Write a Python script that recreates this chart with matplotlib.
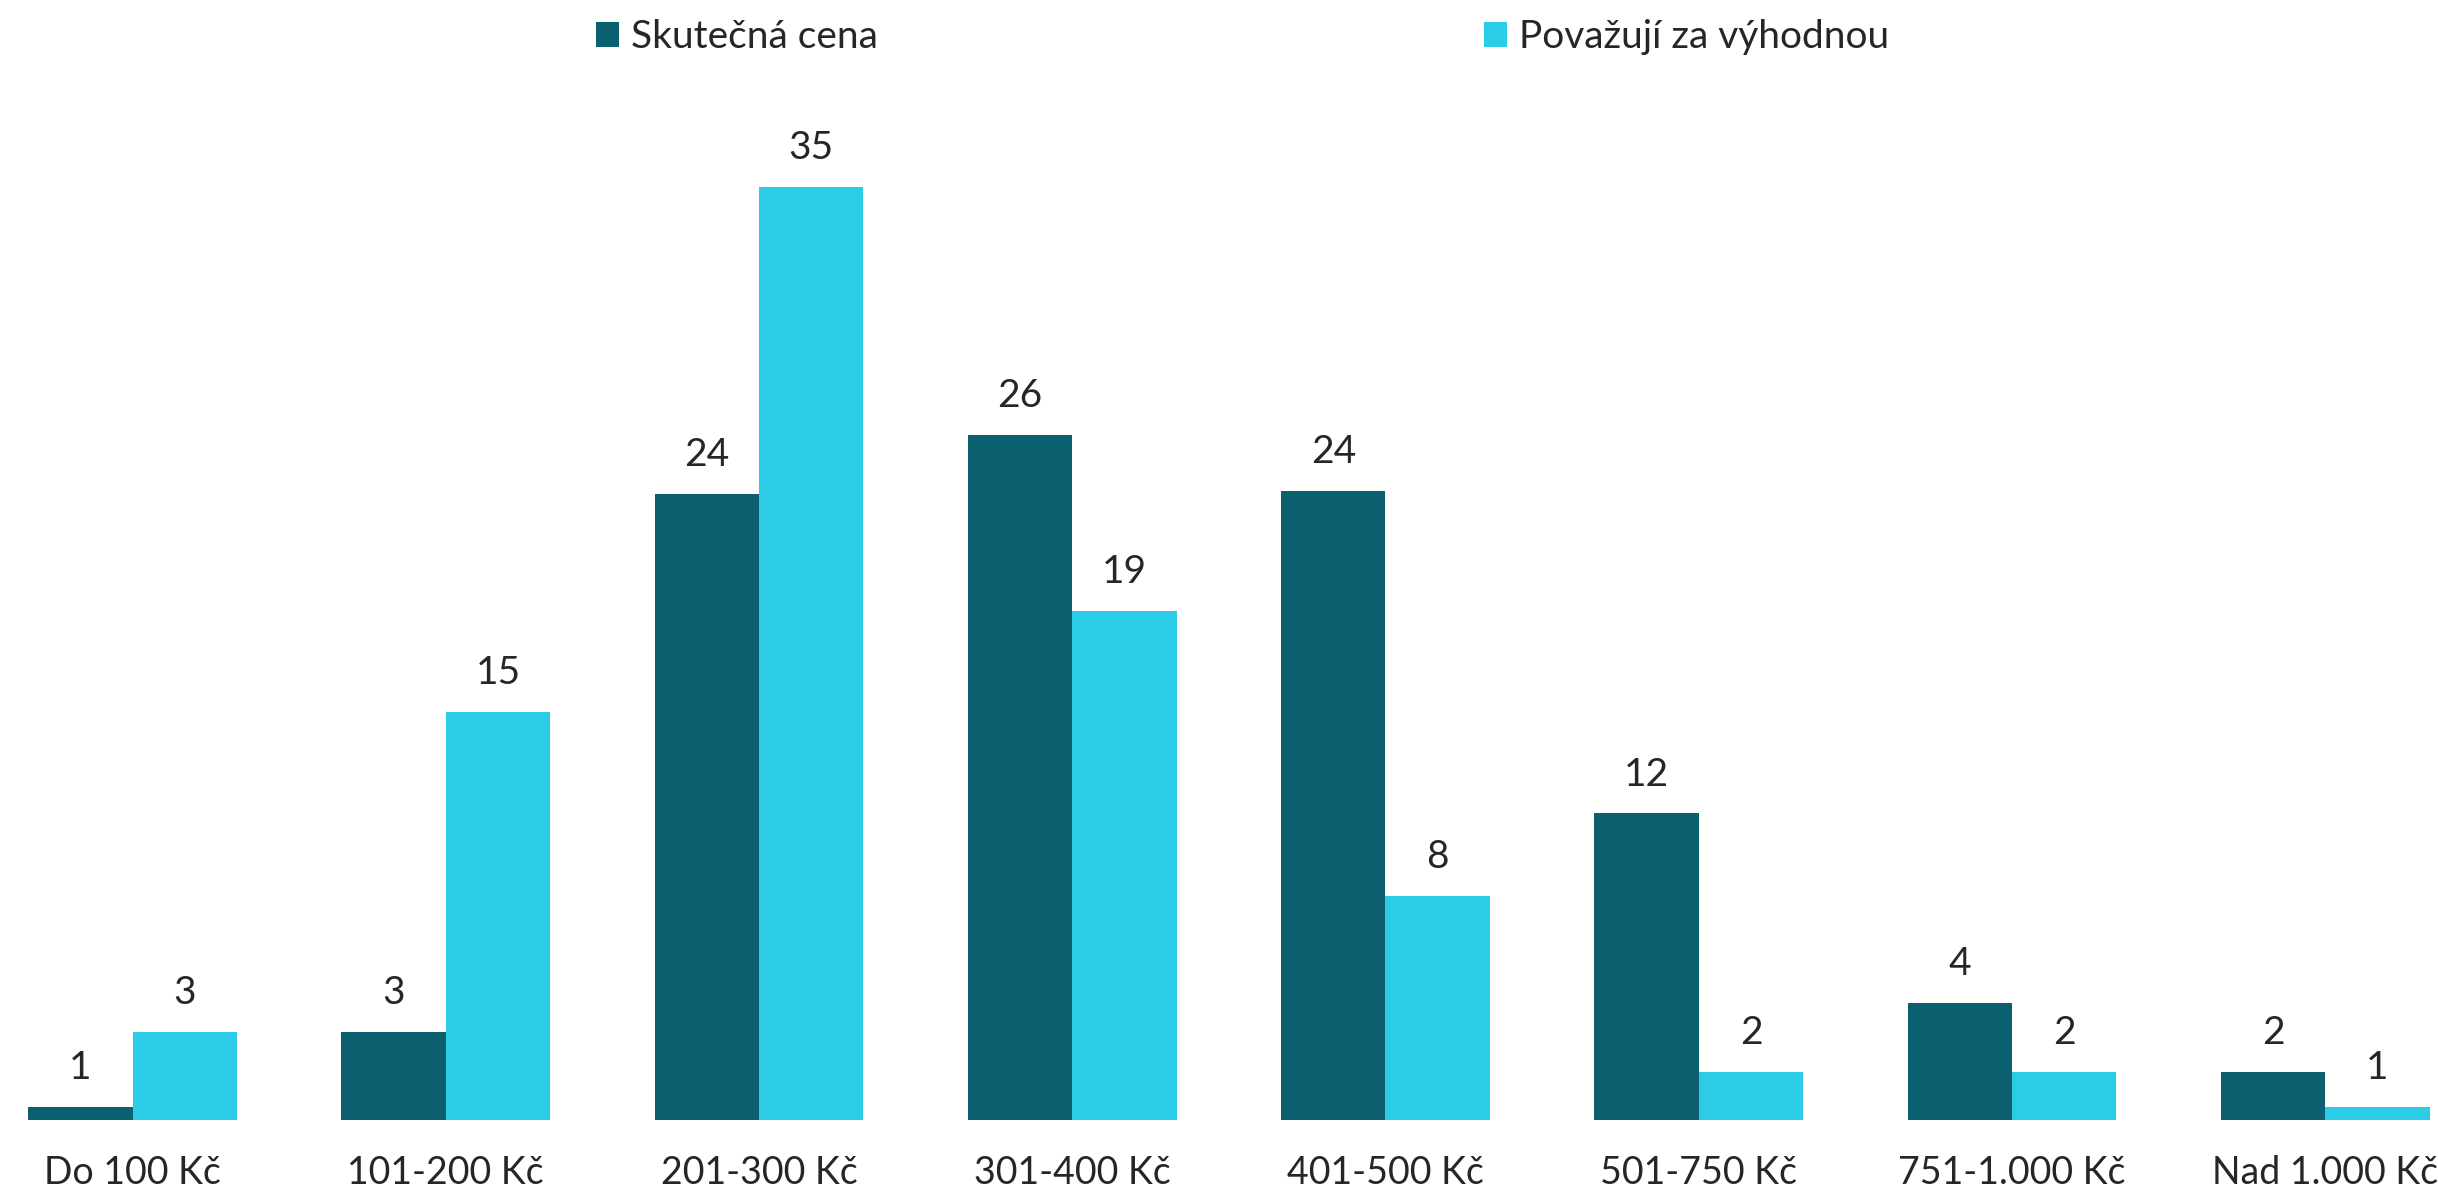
import numpy as np
import matplotlib.pyplot as plt

categories = ["Do 100 Kč", "101-200 Kč", "201-300 Kč", "301-400 Kč",
              "401-500 Kč", "501-750 Kč", "751-1.000 Kč", "Nad 1.000 Kč"]
skutecna = [0.5, 3.3, 23.5, 25.7, 23.6, 11.5, 4.4, 1.8]
vyhodna = [3.3, 15.3, 35.0, 19.1, 8.4, 1.8, 1.8, 0.5]
series_names = ["Skutečná cena", "Považují za výhodnou"]

dark = "#0C5F6E"
cyan = "#2CCCE8"
txt = "#262626"

plt.rcParams['font.family'] = ['Lato', 'DejaVu Sans']

fig = plt.figure(figsize=(24.38, 11.95), dpi=100)
ax = fig.add_axes([0, 0.0628, 1, 0.872])

x = np.arange(len(categories))
w = 1 / 3
b1 = ax.bar(x - w / 2, skutecna, w, color=dark, label=series_names[0])
b2 = ax.bar(x + w / 2, vyhodna, w, color=cyan, label=series_names[1])

for bars, vals in [(b1, skutecna), (b2, vyhodna)]:
    labels = [str(int(np.floor(v + 0.5))) for v in vals]
    ax.bar_label(bars, labels=labels, padding=15, fontsize=28, color=txt)

ax.set_xlim(-0.423, 7.36)
ax.set_ylim(0, 39.1)
ax.set_xticks(x)
ax.set_xticklabels(categories, fontsize=27, color=txt)
ax.tick_params(axis='x', length=0, pad=25)
ax.set_yticks([])
for s in ax.spines.values():
    s.set_visible(False)

fig.legend(loc='center', bbox_to_anchor=(0.5096, 0.969), ncol=2, frameon=False,
           fontsize=28, handlelength=0.6, handleheight=0.6, handletextpad=0.3,
           columnspacing=15.6, labelcolor=txt)

fig.savefig("out.png", dpi=100)
